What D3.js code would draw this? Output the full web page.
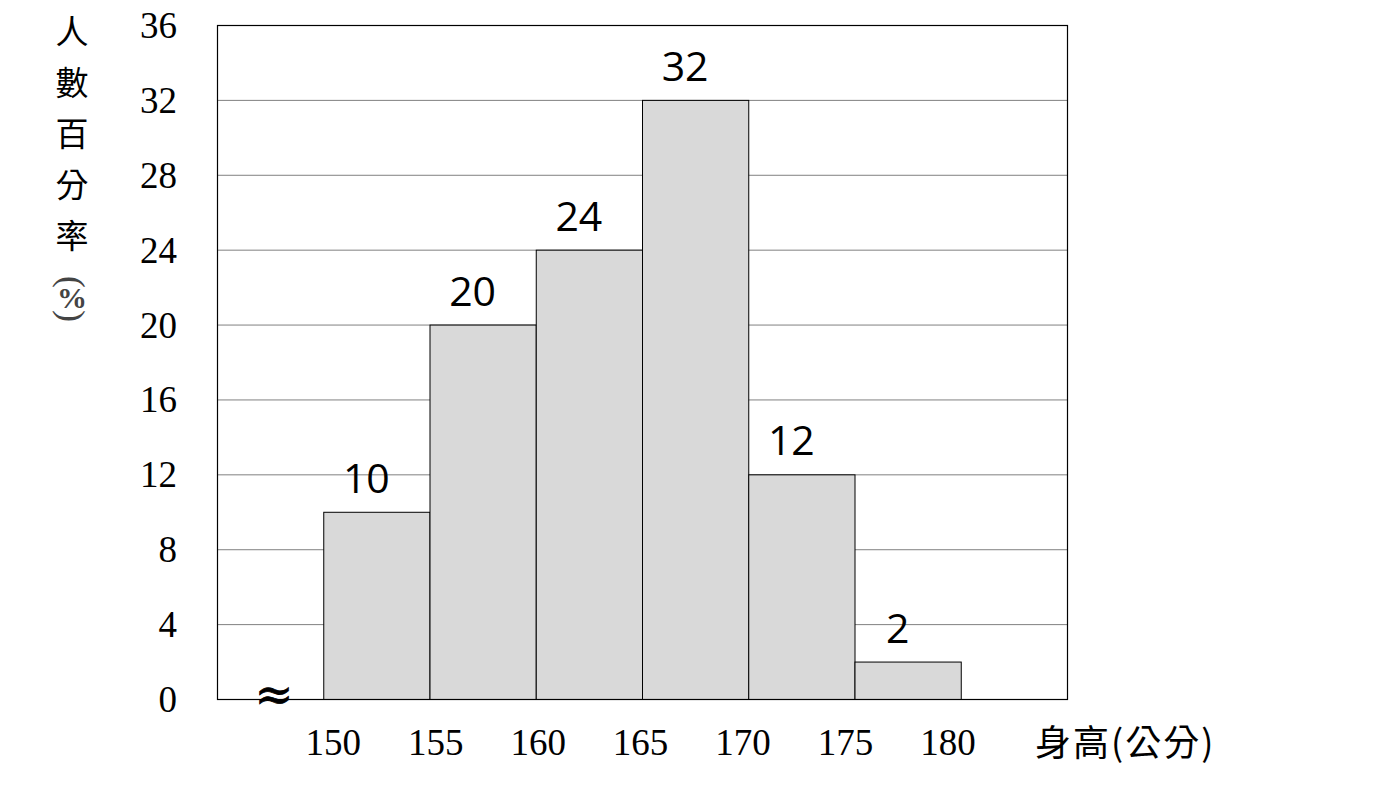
<!DOCTYPE html>
<html>
<head>
<meta charset="utf-8">
<script src="https://cdn.jsdelivr.net/npm/d3@7"></script>
<style>
  body { margin: 0; background: #fff; }
</style>
</head>
<body>
<script>
// data
let bin_starts = [150, 155, 160, 165, 170, 175];
let bin_width = 5;
let percents = [10, 20, 24, 32, 12, 2];
let x_ticks = [150, 155, 160, 165, 170, 175, 180];
let y_ticks = [0, 4, 8, 12, 16, 20, 24, 28, 32, 36];
let y_title = ["人", "數", "百", "分", "率"];
let x_title = "身高(公分)";

let width = 1400, height = 785;
let margin = { top: 25, right: 333, bottom: 86, left: 217 };

let svg = d3.select("body")
  .append("svg")
    .attr("width", width)
    .attr("height", height);

let x = d3.scaleLinear()
    .domain([145, 185])
    .range([margin.left, width - margin.right]);
let y = d3.scaleLinear()
    .domain([0, 36])
    .range([height - margin.bottom, margin.top]);

let serif = "'Liberation Serif', 'DejaVu Serif', serif";
let sans = "'Open Sans', 'Noto Sans', sans-serif";
let cjk = "'Noto Sans CJK TC', 'Noto Sans CJK SC', sans-serif";

// gridlines
svg.append("g")
  .selectAll("line")
  .data(y_ticks.slice(1))
  .join("line")
    .attr("x1", x(145)).attr("x2", x(185))
    .attr("y1", d => y(d) + 0.5).attr("y2", d => y(d) + 0.5)
    .attr("stroke", "#808080")
    .attr("stroke-width", 1);

// bars
svg.append("g")
  .selectAll("rect")
  .data(bin_starts)
  .join("rect")
    .attr("x", d => x(d) + 0.5)
    .attr("y", (d, i) => y(percents[i]) + 0.5)
    .attr("width", d => x(d + bin_width) - x(d))
    .attr("height", (d, i) => y(0) - y(percents[i]))
    .attr("fill", "#d9d9d9")
    .attr("stroke", "#000")
    .attr("stroke-width", 1);

// frame
svg.append("rect")
  .attr("x", x(145) + 0.5)
  .attr("y", y(36) + 0.5)
  .attr("width", x(185) - x(145))
  .attr("height", y(0) - y(36))
  .attr("fill", "none")
  .attr("stroke", "#000")
  .attr("stroke-width", 1.2);

// value labels
svg.append("g")
  .selectAll("text")
  .data(bin_starts)
  .join("text")
    .attr("x", d => x(d + bin_width / 2) - 10)
    .attr("y", (d, i) => y(percents[i]) - 19)
    .attr("text-anchor", "middle")
    .attr("font-family", sans)
    .attr("font-size", 41)
    .attr("fill", "#000")
    .text((d, i) => percents[i]);

// y tick labels
svg.append("g")
  .selectAll("text")
  .data(y_ticks)
  .join("text")
    .attr("x", 177)
    .attr("y", d => y(d))
    .attr("dy", "0.35em")
    .attr("text-anchor", "end")
    .attr("font-family", serif)
    .attr("font-size", 37)
    .attr("fill", "#000")
    .text(d => d);

// x tick labels
svg.append("g")
  .selectAll("text")
  .data(x_ticks)
  .join("text")
    .attr("x", (d, i) => x(d) + 10 - i * 3.8)
    .attr("y", 755)
    .attr("text-anchor", "middle")
    .attr("font-family", serif)
    .attr("font-size", 37)
    .attr("fill", "#000")
    .text(d => d);

// axis break sign
svg.append("text")
  .attr("x", 274)
  .attr("y", 710)
  .attr("text-anchor", "middle")
  .attr("font-family", "'DejaVu Serif', serif")
  .attr("font-size", 46)
  .attr("fill", "#000")
  .attr("stroke", "#000")
  .attr("stroke-width", 0.8)
  .text("≈");

// x title
svg.append("text")
  .attr("x", 1035)
  .attr("y", 756)
  .attr("font-family", cjk)
  .attr("font-size", 36)
  .attr("letter-spacing", 2)
  .attr("fill", "#000")
  .text(x_title);

// y title, vertical
svg.append("g")
  .selectAll("text")
  .data(y_title)
  .join("text")
    .attr("x", 72)
    .attr("y", (d, i) => 44 + i * 51)
    .attr("text-anchor", "middle")
    .attr("font-family", cjk)
    .attr("font-size", 33)
    .attr("fill", "#000")
    .text(d => d);

// (%) written vertically: parentheses turned sideways
let pct = svg.append("g").attr("fill", "#444").attr("font-family", serif).attr("text-anchor", "middle");
pct.append("text").attr("transform", "translate(72,282) rotate(90)").attr("dy", "0.32em").attr("font-size", 36).text("(");
pct.append("text").attr("x", 72).attr("y", 308).attr("font-size", 30).attr("font-weight", "bold").text("%");
pct.append("text").attr("transform", "translate(72,316) rotate(90)").attr("dy", "0.32em").attr("font-size", 36).text(")");
</script>
</body>
</html>
